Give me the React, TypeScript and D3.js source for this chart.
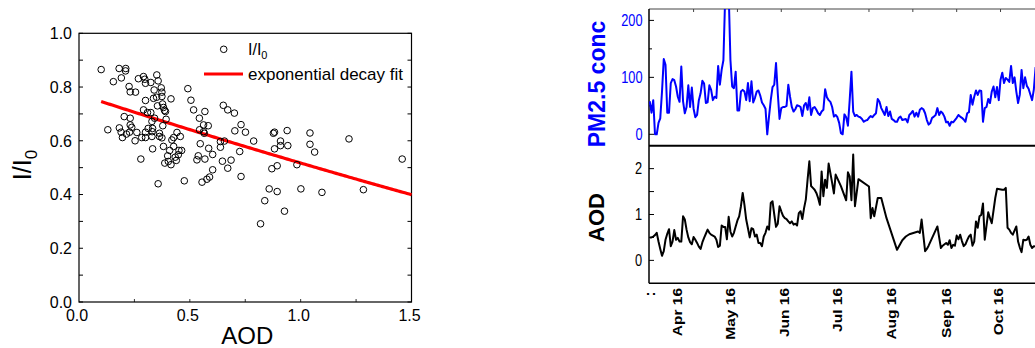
import React from "react";
import * as d3 from "d3";

// ---------- Left chart: scatter of I/I0 vs AOD ----------
const scatterAOD = [
  0.100, 0.130, 0.155, 0.181, 0.191, 0.210, 0.211, 0.182, 0.190, 0.196, 0.204, 0.226, 0.231, 0.255,
  0.231, 0.231, 0.238, 0.228, 0.253, 0.261, 0.268, 0.283, 0.279, 0.291, 0.297, 0.300, 0.300, 0.291,
  0.300, 0.309, 0.312, 0.324, 0.324, 0.329, 0.330, 0.329, 0.332, 0.339, 0.336, 0.341, 0.351, 0.350,
  0.354, 0.357, 0.371, 0.374, 0.374, 0.377, 0.381, 0.386, 0.390, 0.415, 0.393, 0.363, 0.363, 0.378,
  0.374, 0.381, 0.357, 0.387, 0.400, 0.403, 0.409, 0.415, 0.419, 0.427, 0.427, 0.434, 0.439, 0.442,
  0.448, 0.451, 0.457, 0.463, 0.475, 0.491, 0.505, 0.517, 0.532, 0.538, 0.543, 0.544, 0.547, 0.555,
  0.562, 0.568, 0.562, 0.565, 0.568, 0.577, 0.583, 0.585, 0.589, 0.603, 0.603, 0.638, 0.638, 0.647,
  0.651, 0.656, 0.671, 0.671, 0.686, 0.701, 0.703, 0.725, 0.731, 0.731, 0.751, 0.788, 0.819, 0.838,
  0.858, 0.870, 0.877, 0.882, 0.882, 0.894, 0.894, 0.909, 0.909, 0.927, 0.939, 0.942, 0.983, 1.001,
  1.042, 1.042, 1.063, 1.096, 1.218, 1.283, 1.458, 0.332, 0.214, 0.300,
];
const scatterRatio = [
  0.865, 0.641, 0.820, 0.869, 0.834, 0.860, 0.869, 0.648, 0.632, 0.612, 0.690, 0.802, 0.782, 0.781,
  0.684, 0.659, 0.650, 0.632, 0.600, 0.631, 0.831, 0.612, 0.532, 0.839, 0.829, 0.814, 0.750, 0.715,
  0.632, 0.705, 0.646, 0.817, 0.705, 0.672, 0.634, 0.616, 0.570, 0.789, 0.758, 0.684, 0.845, 0.762,
  0.730, 0.823, 0.797, 0.781, 0.765, 0.737, 0.724, 0.713, 0.709, 0.756, 0.680, 0.628, 0.616, 0.656,
  0.611, 0.579, 0.440, 0.517, 0.544, 0.523, 0.564, 0.511, 0.603, 0.579, 0.612, 0.539, 0.527, 0.631,
  0.548, 0.564, 0.616, 0.564, 0.451, 0.794, 0.751, 0.715, 0.529, 0.544, 0.684, 0.641, 0.589, 0.446,
  0.659, 0.709, 0.634, 0.628, 0.532, 0.457, 0.656, 0.572, 0.465, 0.549, 0.492, 0.576, 0.597, 0.524,
  0.732, 0.599, 0.715, 0.498, 0.528, 0.703, 0.637, 0.560, 0.660, 0.467, 0.632, 0.599, 0.291, 0.377,
  0.421, 0.496, 0.628, 0.632, 0.570, 0.507, 0.411, 0.599, 0.582, 0.338, 0.638, 0.582, 0.511, 0.421,
  0.629, 0.587, 0.558, 0.408, 0.607, 0.418, 0.532, 0.646, 0.625, 0.612,
];
// exponential decay fit: y = y0 + A * exp(-b * x)
const fitY0 = -1.683;
const fitA = 2.456;
const fitB = 0.11;
const fitRange = [0.1, 1.5];

// ---------- Right chart: daily time series from 2016-03-16 ----------
const pmValues = [
  58, 38, 60, 0, 0, 20, 28, 75, 132, 122, 38, 38, 90, 97, 95, 84, 66, 57, 119, 58,
  37, 48, 86, 48, 82, 45, 30, 34, 60, 72, 94, 89, 55, 56, 86, 78, 60, 66, 64, 120,
  87, 113, 130, 240, 280, 250, 131, 84, 81, 110, 42, 42, 75, 78, 75, 60, 90, 58, 93, 56,
  64, 75, 77, 68, 56, 51, 45, 0, 31, 60, 83, 87, 125, 72, 27, 46, 48, 48, 50, 87,
  66, 48, 40, 44, 51, 50, 48, 32, 51, 55, 43, 65, 34, 46, 48, 43, 37, 34, 40, 43,
  79, 65, 60, 57, 48, 31, 34, 30, 20, 2, 0, 35, 30, 15, 60, 110, 40, 32, 34, 31,
  30, 27, 22, 24, 25, 29, 32, 30, 34, 37, 62, 57, 46, 40, 34, 48, 32, 40, 27, 25,
  22, 22, 29, 31, 25, 26, 27, 21, 34, 37, 41, 31, 38, 31, 43, 46, 44, 37, 25, 17,
  20, 29, 31, 34, 46, 34, 40, 37, 31, 21, 22, 15, 22, 21, 25, 29, 34, 31, 29, 26,
  22, 37, 39, 69, 52, 66, 77, 69, 77, 76, 22, 46, 48, 62, 55, 75, 84, 65, 83, 60,
  96, 108, 90, 99, 96, 92, 120, 90, 100, 75, 55, 70, 113, 81, 100, 85, 80, 70, 60, 79,
  118,
];
const aodDays = [
  0, 1, 2, 3, 4, 5, 6, 7, 8, 9, 10, 11, 12, 13, 14, 15, 16, 17, 18, 19,
  20, 21, 22, 23, 24, 25, 26, 27, 28, 29, 30, 31, 32, 33, 34, 35, 36, 37, 38, 39,
  40, 41, 42, 43, 44, 45, 46, 47, 48, 49, 50, 51, 52, 53, 54, 55, 56, 57, 58, 59,
  60, 61, 62, 63, 64, 65, 66, 67, 68, 69, 70, 71, 72, 73, 74, 75, 76, 77, 78, 79,
  80, 81, 82, 83, 84, 85, 86, 87, 88, 89, 90, 91, 92, 93, 94, 95, 96, 97, 98, 99,
  100, 101, 102, 103, 104, 105, 106, 109, 112, 113, 114, 115, 116, 117, 119,
  125, 126, 127, 128, 130, 132, 135, 141, 144, 146, 148, 153, 154, 155, 157, 158, 159,
  164, 166, 167, 169, 170, 171, 172, 173, 174, 175, 176, 177, 178, 179, 180, 181, 182, 183,
  184, 185, 186, 187, 188, 189, 190, 191, 193, 194, 195, 197, 198, 201, 202, 203, 204, 205,
  206, 207, 209, 210, 211, 212, 213, 214, 215, 216, 217, 218, 219, 220,
];
const aodValues = [
  0.50, 0.50, 0.52, 0.55, 0.60, 0.41, 0.25, 0.10, 0.20, 0.45, 0.58, 0.68, 0.31, 0.41, 0.66, 0.45, 0.49, 0.41, 0.41, 0.96,
  0.89, 0.67, 0.50, 0.40, 0.35, 0.51, 0.45, 0.38, 0.30, 0.25, 0.39, 0.49, 0.58, 0.67, 0.60, 0.56, 0.54, 0.52, 0.45, 0.29,
  0.32, 0.76, 0.73, 0.73, 0.46, 0.95, 0.63, 0.52, 0.60, 0.74, 0.87, 0.96, 1.18, 1.47, 1.21, 0.89, 0.70, 0.50, 0.70, 0.68,
  0.52, 0.56, 0.38, 0.38, 0.31, 0.52, 0.60, 0.74, 0.67, 1.25, 1.29, 1.00, 0.73, 0.80, 1.18, 1.07, 0.97, 0.92, 0.90, 0.85,
  0.81, 0.85, 0.78, 0.80, 0.76, 1.03, 1.07, 0.90, 1.14, 1.33, 1.76, 2.16, 1.62, 1.58, 1.54, 1.47, 1.36, 1.21, 1.94, 1.40,
  1.76, 1.58, 2.11, 1.90, 1.69, 1.46, 1.87, 1.62, 1.31, 1.92, 1.83, 1.31, 2.31, 1.18, 1.77,
  1.61, 0.92, 1.14, 0.96, 1.36, 1.36, 0.92, 0.23, 0.44, 0.52, 0.57, 0.63, 0.60, 0.89, 0.20, 0.25, 0.32,
  0.74, 0.27, 0.32, 0.38, 0.34, 0.44, 0.27, 0.34, 0.32, 0.54, 0.46, 0.56, 0.42, 0.31, 0.35, 0.44, 0.52, 0.56,
  0.32, 0.41, 0.85, 0.71, 0.96, 0.99, 1.24, 0.45, 1.05, 0.92, 0.81, 1.36, 1.56, 1.54, 1.54, 1.58, 0.71, 0.67,
  0.60, 0.56, 0.74, 0.41, 0.28, 0.18, 0.45, 0.44, 0.45, 0.52, 0.34, 0.27, 0.31, 0.30,
];
const monthTicks = ["2016-04-01", "2016-05-01", "2016-06-01", "2016-07-01", "2016-08-01", "2016-09-01", "2016-10-01"];
const topTickDays = [25, 50, 75, 100, 125, 150, 175, 200];
const pmTickValues = [0, 50, 100, 150, 200];
const pmLabelValues = [0, 100, 200];
const aodTickValues = [0, 0.5, 1, 1.5, 2];
const aodLabelValues = [0, 1, 2];

const FONT = "'Liberation Sans', Arial, Helvetica, sans-serif";
const BLUE = "#0000ff";

const startDate = new Date(2016, 2, 16);
const dayToDate = (d: number) => d3.timeDay.offset(startDate, d);

export default function App() {
  // ---- left chart scales
  const xS = d3.scaleLinear().domain([0, 1.5]).range([79, 411.5]);
  const yS = d3.scaleLinear().domain([0, 1]).range([302, 33.3]);
  const fitPts = d3.range(fitRange[0], fitRange[1] + 1e-9, 0.01).map((x) => [x, fitY0 + fitA * Math.exp(-fitB * x)]);
  const fitLine = d3
    .line<number[]>()
    .x((d) => xS(d[0]))
    .y((d) => yS(d[1]));

  // ---- right chart scales
  const pxPerDay = 1.754;
  const spanDays = 250;
  const xT = d3
    .scaleTime()
    .domain([new Date(2016, 2, 15, 14), d3.timeDay.offset(new Date(2016, 2, 15, 14), spanDays)])
    .range([649, 649 + spanDays * pxPerDay]);
  const yPM = d3.scaleLinear().domain([-20, 220]).range([145.7, 9]);
  const yA = d3.scaleLinear().domain([-0.5, 2.5]).range([283.3, 145.7]);
  const pmLine = d3
    .line<number>()
    .x((_, i) => xT(dayToDate(i)))
    .y((v) => yPM(v));
  const aodLine = d3
    .line<number>()
    .x((_, i) => xT(dayToDate(aodDays[i])))
    .y((v) => yA(v));
  const monthFmt = d3.timeFormat("%b %y");
  const xLeft = xT.range()[0];
  const xRight = xT.range()[1];

  return (
    <svg
      width={1035}
      height={348}
      style={{ position: "absolute", left: 0, top: 0, background: "#fff" }}
      fontFamily={FONT}
    >
      <defs>
        <clipPath id="clipPM">
          <rect x={xLeft} y={yPM.range()[1]} width={xRight - xLeft} height={yPM.range()[0] - yPM.range()[1]} />
        </clipPath>
        <clipPath id="clipAOD">
          <rect x={xLeft} y={yA.range()[1]} width={xRight - xLeft} height={yA.range()[0] - yA.range()[1]} />
        </clipPath>
      </defs>

      {/* ================= LEFT CHART ================= */}
      <rect x={xS(0)} y={yS(1)} width={xS(1.5) - xS(0)} height={yS(0) - yS(1)} fill="none" stroke="#000" strokeWidth={1.2} />
      {yS.ticks(10).map((t) => (
        <g key={"ly" + t}>
          <line x1={xS(0)} x2={xS(0) + 4} y1={yS(t)} y2={yS(t)} stroke="#000" strokeWidth={1} />
          <line x1={xS(1.5)} x2={xS(1.5) - 4} y1={yS(t)} y2={yS(t)} stroke="#000" strokeWidth={1} />
        </g>
      ))}
      {d3.range(0.25, 1.5, 0.25).map((t) => (
        <line key={"lx" + t} x1={xS(t)} x2={xS(t)} y1={yS(0)} y2={yS(0) - 3} stroke="#000" strokeWidth={0.8} />
      ))}
      {yS.ticks(5).map((t) => (
        <text key={"lyl" + t} x={72} y={yS(t) + 5.8} textAnchor="end" fontSize={16} fill="#000">
          {d3.format(".1f")(t)}
        </text>
      ))}
      {[0, 0.5, 1, 1.5].map((t) => (
        <text key={"lxl" + t} x={xS(t) - 2} y={321} textAnchor="middle" fontSize={16} fill="#000">
          {d3.format(".1f")(t)}
        </text>
      ))}
      <text x={(xS(0) + xS(1.5)) / 2 + 2} y={344} textAnchor="middle" fontSize={24} fill="#000">
        AOD
      </text>
      <text transform={`translate(31,165) rotate(-90)`} textAnchor="middle" fontSize={25} fill="#000">
        <tspan>I/I</tspan>
        <tspan fontSize={17} dy={6}>0</tspan>
      </text>
      <path d={fitLine(fitPts) || ""} fill="none" stroke="#ff0000" strokeWidth={3.2} />
      {scatterAOD.map((x, i) => (
        <circle key={"pt" + i} cx={xS(x)} cy={yS(scatterRatio[i])} r={3.3} fill="none" stroke="#000" strokeWidth={1} />
      ))}
      {/* legend */}
      <circle cx={223.7} cy={49.3} r={3.3} fill="none" stroke="#000" strokeWidth={1} />
      <text x={248} y={55} fontSize={16} fill="#000">
        <tspan>I/I</tspan>
        <tspan fontSize={11} dy={4}>0</tspan>
      </text>
      <line x1={204} x2={243} y1={74} y2={74} stroke="#ff0000" strokeWidth={3.2} />
      <text x={248} y={79.5} fontSize={17} fill="#000">
        exponential decay fit
      </text>

      {/* ================= RIGHT CHART ================= */}
      <line x1={xLeft} x2={xRight} y1={yPM.range()[1]} y2={yPM.range()[1]} stroke="#444" strokeWidth={1} />
      <line x1={xLeft} x2={xRight} y1={yPM.range()[0]} y2={yPM.range()[0]} stroke="#000" strokeWidth={2} />
      <line x1={xLeft} x2={xRight} y1={yA.range()[0]} y2={yA.range()[0]} stroke="#000" strokeWidth={1.5} />
      <line x1={xLeft} x2={xLeft} y1={yPM.range()[1]} y2={yA.range()[0]} stroke="#000" strokeWidth={1.5} />
      {topTickDays.map((d) => (
        <line key={"tt" + d} x1={xT(dayToDate(d))} x2={xT(dayToDate(d))} y1={yPM.range()[1]} y2={yPM.range()[1] + 3} stroke="#444" strokeWidth={1} />
      ))}
      {pmTickValues.map((t) => (
        <line key={"pt" + t} x1={xLeft} x2={xLeft + (t % 100 === 0 ? 5 : 3)} y1={yPM(t)} y2={yPM(t)} stroke="#000" strokeWidth={1} />
      ))}
      {aodTickValues.map((t) => (
        <line key={"at" + t} x1={xLeft} x2={xLeft + 5} y1={yA(t)} y2={yA(t)} stroke="#000" strokeWidth={1} />
      ))}
      {pmLabelValues.map((t) => (
        <text key={"pl" + t} transform={`translate(642.5,${yPM(t)}) scale(0.8,1)`} dy="0.36em" textAnchor="end" fontSize={16} fill={BLUE}>
          {t}
        </text>
      ))}
      {aodLabelValues.map((t) => (
        <text key={"al" + t} transform={`translate(642,${yA(t)}) scale(0.8,1)`} dy="0.36em" textAnchor="end" fontSize={16} fill="#000">
          {t}
        </text>
      ))}
      <text transform={`translate(605,84) rotate(-90)`} textAnchor="middle" fontSize={23} fontWeight="bold" fill={BLUE}>
        PM2.5 conc
      </text>
      <text transform={`translate(603.5,217.5) rotate(-90)`} textAnchor="middle" fontSize={22} fontWeight="bold" fill="#000">
        AOD
      </text>
      <path d={pmLine(pmValues) || ""} fill="none" stroke={BLUE} strokeWidth={2} strokeLinejoin="round" clipPath="url(#clipPM)" />
      <path d={aodLine(aodValues) || ""} fill="none" stroke="#000" strokeWidth={2} strokeLinejoin="round" clipPath="url(#clipAOD)" />
      {monthTicks.map((m) => {
        const dt = new Date(m + "T00:00:00");
        const x = xT(dt);
        return (
          <text
            key={m}
            transform={`translate(${x},288) scale(0.82,1) rotate(-90)`}
            dy="0.36em"
            textAnchor="end"
            fontSize={15.5}
            fontWeight="bold"
            fill="#000"
          >
            {monthFmt(dt)}
          </text>
        );
      })}
      <text transform={`translate(${xLeft + 1},294) rotate(-90)`} dy="0.36em" textAnchor="middle" fontSize={15} fontWeight="bold" fill="#000">
        :
      </text>
    </svg>
  );
}
